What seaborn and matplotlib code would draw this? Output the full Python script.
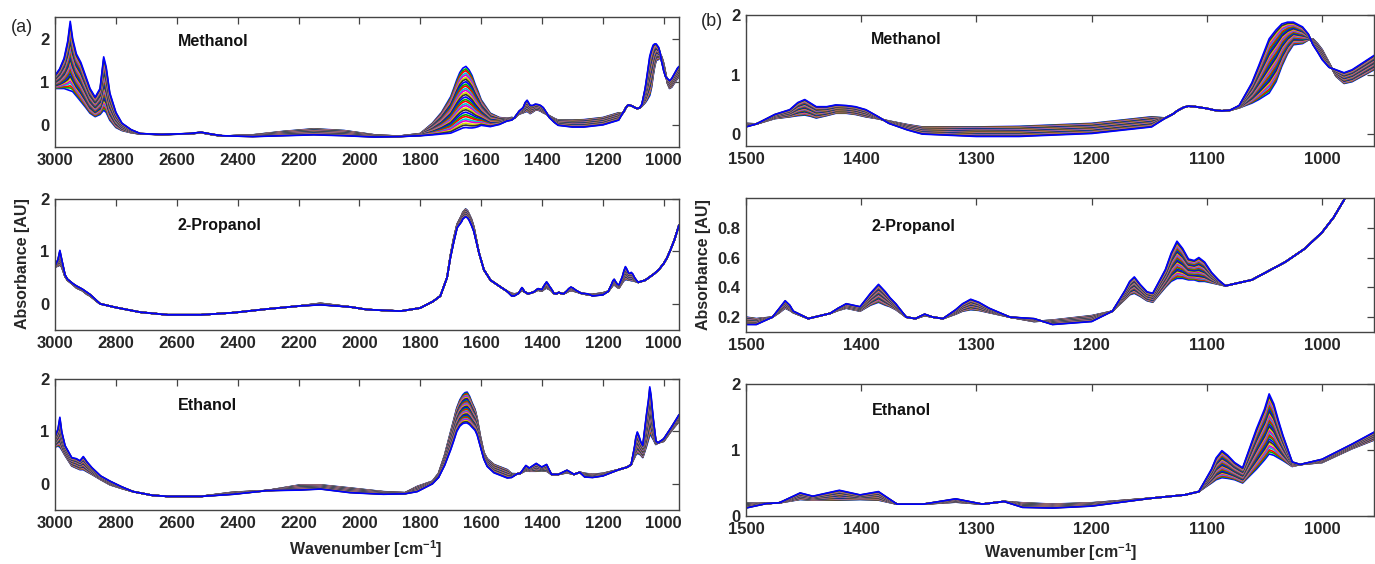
import numpy as np
import pandas as pd
import matplotlib
matplotlib.use("Agg")
import matplotlib.pyplot as plt
import seaborn as sns

# ---------------- data ----------------
# Each alcohol: wavenumber knots, spectrum of the water-rich end (lo) and alcohol-rich end (hi)
meth_wn = [3000, 2985, 2970, 2958, 2950, 2942, 2930, 2915, 2900, 2885, 2868, 2852, 2840, 2832, 2820,
           2800, 2780, 2750, 2720, 2650, 2560, 2520, 2480, 2450, 2350, 2250, 2150, 2050, 1950, 1870,
           1800, 1760, 1730, 1715, 1700, 1690, 1680, 1670, 1660, 1650, 1640, 1630, 1620, 1610, 1600,
           1570, 1540, 1515, 1500, 1491, 1475, 1462, 1455, 1449, 1444, 1439, 1430, 1422, 1413, 1405,
           1396, 1386, 1376, 1360, 1347, 1300, 1263, 1200, 1148, 1136, 1130, 1125, 1120, 1116, 1110,
           1100, 1093, 1087, 1080, 1072, 1061, 1055, 1046, 1040, 1035, 1030, 1025, 1017, 1012, 1008,
           1004, 1000, 994, 988, 981, 974, 955, 950]
meth_lo = [0.85, 0.85, 0.85, 0.82, 0.80, 0.78, 0.68, 0.55, 0.42, 0.28, 0.20, 0.25, 0.35, 0.30, 0.12,
           -0.05, -0.12, -0.17, -0.20, -0.21, -0.20, -0.17, -0.22, -0.25, -0.22, -0.14, -0.08, -0.12, -0.22, -0.25,
           -0.19, 0.05, 0.30, 0.48, 0.66, 0.85, 1.05, 1.22, 1.32, 1.36, 1.28, 1.15, 0.95, 0.78, 0.59,
           0.28, 0.18, 0.16, 0.18, 0.17, 0.26, 0.29, 0.31, 0.32, 0.30, 0.27, 0.31, 0.35, 0.35, 0.33,
           0.29, 0.26, 0.22, 0.16, 0.12, 0.12, 0.13, 0.18, 0.29, 0.27, 0.33, 0.40, 0.45, 0.47, 0.46,
           0.43, 0.40, 0.39, 0.40, 0.44, 0.52, 0.58, 0.69, 0.88, 1.14, 1.35, 1.50, 1.52, 1.58, 1.60,
           1.52, 1.42, 1.20, 0.97, 0.85, 0.88, 1.08, 1.12]
meth_hi = [1.15, 1.30, 1.55, 1.95, 2.40, 2.00, 1.65, 1.45, 1.15, 0.85, 0.65, 0.85, 1.58, 1.35, 0.75,
           0.30, 0.05, -0.10, -0.19, -0.21, -0.19, -0.16, -0.21, -0.24, -0.26, -0.24, -0.22, -0.24, -0.27, -0.26,
           -0.24, -0.22, -0.20, -0.19, -0.18, -0.15, -0.12, -0.09, -0.06, -0.05, -0.06, -0.06, -0.05, -0.03, 0.00,
           -0.03, 0.02, 0.10, 0.12, 0.17, 0.33, 0.41, 0.53, 0.58, 0.52, 0.46, 0.46, 0.49, 0.48, 0.46,
           0.41, 0.30, 0.18, 0.07, 0.00, -0.04, -0.04, 0.01, 0.12, 0.27, 0.33, 0.40, 0.45, 0.47, 0.46,
           0.43, 0.40, 0.39, 0.40, 0.48, 0.86, 1.15, 1.60, 1.75, 1.85, 1.88, 1.88, 1.80, 1.68, 1.50,
           1.38, 1.25, 1.12, 1.08, 1.03, 1.08, 1.32, 1.36]

prop_wn = [3000, 2990, 2984, 2978, 2967, 2959, 2940, 2929, 2910, 2895, 2885, 2870, 2852, 2800, 2720,
           2630, 2520, 2414, 2304, 2194, 2128, 2030, 1975, 1865, 1800, 1757, 1734, 1712, 1701, 1690,
           1679, 1665, 1660, 1651, 1645, 1640, 1632, 1624, 1607, 1591, 1569, 1536, 1515, 1500, 1491,
           1477, 1471, 1466, 1462, 1459, 1446, 1427, 1420, 1413, 1407, 1401, 1392, 1385, 1379, 1375,
           1370, 1361, 1353, 1345, 1338, 1329, 1318, 1312, 1305, 1298, 1289, 1271, 1250, 1234, 1200,
           1182, 1171, 1167, 1163, 1158, 1152, 1147, 1136, 1131, 1126, 1121, 1116, 1111, 1107, 1102,
           1096, 1090, 1084, 1061, 1032, 1015, 1000, 990, 980, 965, 950]
prop_lo = [0.70, 0.72, 0.74, 0.70, 0.52, 0.45, 0.36, 0.30, 0.25, 0.18, 0.15, 0.08, 0.00, -0.07, -0.16,
           -0.21, -0.21, -0.17, -0.10, -0.04, 0.01, -0.06, -0.11, -0.14, -0.08, 0.05, 0.15, 0.50, 0.92, 1.25,
           1.52, 1.68, 1.75, 1.81, 1.78, 1.72, 1.62, 1.47, 0.97, 0.65, 0.45, 0.32, 0.24, 0.20, 0.19,
           0.20, 0.23, 0.26, 0.245, 0.23, 0.19, 0.225, 0.245, 0.26, 0.25, 0.24, 0.28, 0.30, 0.28, 0.27,
           0.25, 0.20, 0.19, 0.21, 0.20, 0.19, 0.22, 0.24, 0.25, 0.245, 0.23, 0.20, 0.17, 0.18, 0.21,
           0.24, 0.32, 0.35, 0.36, 0.34, 0.31, 0.30, 0.40, 0.44, 0.46, 0.46, 0.45, 0.45, 0.44, 0.44,
           0.43, 0.42, 0.41, 0.45, 0.57, 0.66, 0.77, 0.87, 1.00, 1.22, 1.50]
prop_hi = [0.72, 0.85, 1.02, 0.85, 0.55, 0.47, 0.38, 0.34, 0.28, 0.22, 0.18, 0.10, 0.00, -0.07, -0.16,
           -0.21, -0.21, -0.17, -0.10, -0.04, -0.02, -0.06, -0.11, -0.14, -0.08, 0.05, 0.15, 0.50, 0.88, 1.18,
           1.45, 1.56, 1.62, 1.66, 1.64, 1.60, 1.50, 1.38, 0.97, 0.65, 0.45, 0.32, 0.24, 0.15, 0.15,
           0.20, 0.26, 0.31, 0.28, 0.24, 0.19, 0.225, 0.26, 0.29, 0.28, 0.27, 0.36, 0.42, 0.37, 0.33,
           0.29, 0.20, 0.19, 0.22, 0.20, 0.19, 0.25, 0.29, 0.32, 0.30, 0.26, 0.20, 0.19, 0.15, 0.17,
           0.24, 0.38, 0.44, 0.47, 0.42, 0.37, 0.36, 0.52, 0.63, 0.71, 0.66, 0.59, 0.58, 0.60, 0.57,
           0.50, 0.45, 0.41, 0.45, 0.57, 0.66, 0.77, 0.87, 1.00, 1.22, 1.50]

eth_wn = [3000, 2990, 2984, 2978, 2967, 2945, 2930, 2918, 2907, 2895, 2879, 2850, 2819, 2780, 2743,
          2680, 2630, 2520, 2414, 2304, 2194, 2128, 2030, 1921, 1850, 1810, 1760, 1740, 1720, 1700,
          1690, 1680, 1670, 1660, 1653, 1646, 1638, 1630, 1620, 1613, 1603, 1591, 1580, 1558, 1514,
          1500, 1482, 1471, 1453, 1442, 1419, 1401, 1385, 1369, 1346, 1318, 1295, 1276, 1260, 1234,
          1200, 1148, 1119, 1107, 1096, 1092, 1087, 1082, 1076, 1069, 1057, 1050, 1046, 1042, 1038,
          1034, 1026, 1019, 1000, 974, 955, 950]
eth_lo = [0.70, 0.72, 0.70, 0.65, 0.54, 0.34, 0.30, 0.27, 0.27, 0.23, 0.18, 0.08, -0.02, -0.09, -0.15,
          -0.22, -0.24, -0.24, -0.16, -0.13, -0.02, -0.02, -0.08, -0.15, -0.17, -0.05, 0.05, 0.20, 0.55, 1.00,
          1.22, 1.45, 1.60, 1.70, 1.74, 1.75, 1.67, 1.55, 1.42, 1.25, 0.92, 0.60, 0.48, 0.37, 0.27,
          0.195, 0.19, 0.20, 0.25, 0.24, 0.24, 0.25, 0.24, 0.18, 0.18, 0.21, 0.18, 0.22, 0.20, 0.18,
          0.20, 0.27, 0.32, 0.37, 0.50, 0.55, 0.58, 0.57, 0.55, 0.50, 0.71, 0.85, 0.94, 0.92, 0.88,
          0.84, 0.75, 0.78, 0.81, 1.02, 1.15, 1.19]
eth_hi = [0.90, 1.05, 1.27, 1.00, 0.73, 0.50, 0.48, 0.44, 0.52, 0.42, 0.31, 0.15, 0.05, -0.06, -0.15,
          -0.22, -0.24, -0.24, -0.20, -0.13, -0.12, -0.10, -0.17, -0.20, -0.19, -0.15, 0.00, 0.12, 0.35, 0.65,
          0.82, 1.00, 1.10, 1.15, 1.16, 1.16, 1.13, 1.08, 1.02, 0.93, 0.72, 0.47, 0.33, 0.21, 0.11,
          0.12, 0.19, 0.20, 0.35, 0.30, 0.39, 0.32, 0.37, 0.18, 0.18, 0.26, 0.18, 0.22, 0.13, 0.12,
          0.15, 0.27, 0.32, 0.37, 0.71, 0.88, 0.99, 0.92, 0.81, 0.73, 1.32, 1.62, 1.85, 1.70, 1.45,
          1.22, 0.82, 0.78, 0.86, 1.09, 1.27, 1.32]

# alcohol content of the measured mixtures (% of the alcohol-rich end)
conc_pct = [0, 4, 7, 11, 14, 18, 21, 25, 29, 32, 36, 39, 43, 46, 50, 54, 57, 61, 64, 68,
            71, 75, 79, 82, 86, 89, 93, 96, 100]

names = ["Methanol", "2-Propanol", "Ethanol"]
left_xticks = [3000, 2800, 2600, 2400, 2200, 2000, 1800, 1600, 1400, 1200, 1000]
right_xticks = [1500, 1400, 1300, 1200, 1100, 1000]

# ---------------- build long tables ----------------
def mixture_table(wn, lo, hi):
    wn = np.asarray(wn, float); lo = np.asarray(lo, float); hi = np.asarray(hi, float)
    frames = []
    for i, c in enumerate(conc_pct):
        frames.append(pd.DataFrame({"wn": wn, "A": lo + (c / 100.0) * (hi - lo),
                                    "curve": f"s{i:02d}"}))
    return pd.concat(frames, ignore_index=True)

tables = {
    "Methanol": mixture_table(meth_wn, meth_lo, meth_hi),
    "2-Propanol": mixture_table(prop_wn, prop_lo, prop_hi),
    "Ethanol": mixture_table(eth_wn, eth_lo, eth_hi),
}

matlab_cycle = [(0, 0, 1), (0, 0.7, 0), (1, 0, 0), (0, 0.8, 0.8),
                (0.85, 0, 0.85), (0.85, 0.85, 0), (0.2, 0.2, 0.2)]
hue_order = [f"s{i:02d}" for i in range(len(conc_pct))]
palette = [matlab_cycle[i % len(matlab_cycle)] for i in range(len(conc_pct))]

# ---------------- figure ----------------
sns.set_theme(style="white")
plt.rcParams["font.family"] = ["Liberation Sans", "DejaVu Sans"]
plt.rcParams["mathtext.fontset"] = "custom"
plt.rcParams["mathtext.rm"] = "Liberation Sans:bold"
plt.rcParams["mathtext.bf"] = "Liberation Sans:bold"
plt.rcParams["mathtext.default"] = "bf"

W, H = 1375, 564
fig = plt.figure(figsize=(W / 100, H / 100), dpi=100)

def box(x0, y0, x1, y1):
    return [x0 / W, 1 - y1 / H, (x1 - x0) / W, (y1 - y0) / H]

left_boxes = [box(55, 17, 679, 147), box(55, 199, 679, 330), box(55, 379, 679, 510)]
right_boxes = [box(746, 15, 1374, 146), box(746, 198, 1374, 332), box(746, 384, 1374, 516)]
left_ylims = [(-0.5, 2.5), (-0.5, 2.0), (-0.5, 2.0)]
right_ylims = [(-0.2, 2.0), (0.1, 1.0), (0.0, 2.0)]
left_yticks = [[0, 1, 2], [0, 1, 2], [0, 1, 2]]
right_yticks = [[0, 1, 2], [0.2, 0.4, 0.6, 0.8], [0, 1, 2]]
left_lbl = [(0.253, 0.81), (0.264, 0.80), (0.244, 0.80)]
right_lbl = [(0.255, 0.81), (0.267, 0.79), (0.247, 0.80)]

spine_col = "#444444"

def style_ax(ax, xlim, ylim, xticks, yticks, fmt):
    ax.set_xlim(*xlim)
    ax.set_ylim(*ylim)
    ax.set_xticks(xticks)
    ax.set_yticks(yticks)
    ax.set_yticklabels([fmt(v) for v in yticks])
    ax.set_xlabel("")
    ax.set_ylabel("")
    ax.tick_params(direction="in", top=True, right=True, length=5, width=0.9,
                   color=spine_col, labelsize=12, pad=4)
    for lab in ax.get_xticklabels() + ax.get_yticklabels():
        lab.set_fontweight("bold")
    for s in ax.spines.values():
        s.set_visible(True)
        s.set_color(spine_col)
        s.set_linewidth(1.0)

for k, name in enumerate(names):
    df = tables[name]
    for col, (boxes, xlim, xt, ylims, yts, lbl) in enumerate([
            (left_boxes, (3000, 950), left_xticks, left_ylims, left_yticks, left_lbl),
            (right_boxes, (1500, 955), right_xticks, right_ylims, right_yticks, right_lbl)]):
        ax = fig.add_axes(boxes[k])
        sub = df[(df["wn"] <= xlim[0] + 1) & (df["wn"] >= xlim[1] - 10)]
        sns.lineplot(data=sub, x="wn", y="A", hue="curve", hue_order=hue_order,
                     palette=palette, estimator=None, sort=False, legend=False,
                     linewidth=1.2, ax=ax)
        fmt = (lambda v: f"{v:.1f}") if (col == 1 and k == 1) else (lambda v: f"{v:g}")
        style_ax(ax, xlim, ylims[k], xt, yts[k], fmt)
        ax.text(lbl[k][0], lbl[k][1], name, transform=ax.transAxes, ha="center",
                va="center", fontsize=11.5, fontweight="bold", color="#111111")

fig.text(22 / W, 1 - 28 / H, "(a)", fontsize=13, ha="center", va="center")
fig.text(712 / W, 1 - 22 / H, "(b)", fontsize=13, ha="center", va="center")
fig.text(23 / W, 1 - 264 / H, "Absorbance [AU]", rotation=90, fontsize=11.5,
         fontweight="bold", ha="center", va="center")
fig.text(703 / W, 1 - 265 / H, "Absorbance [AU]", rotation=90, fontsize=11.5,
         fontweight="bold", ha="center", va="center")
fig.text(366 / W, 1 - 549 / H, r"Wavenumber [cm$^{-1}$]", fontsize=11.5,
         fontweight="bold", ha="center", va="center")
fig.text(1061 / W, 1 - 552 / H, r"Wavenumber [cm$^{-1}$]", fontsize=11.5,
         fontweight="bold", ha="center", va="center")

fig.savefig("out.png", dpi=100, facecolor="white")
